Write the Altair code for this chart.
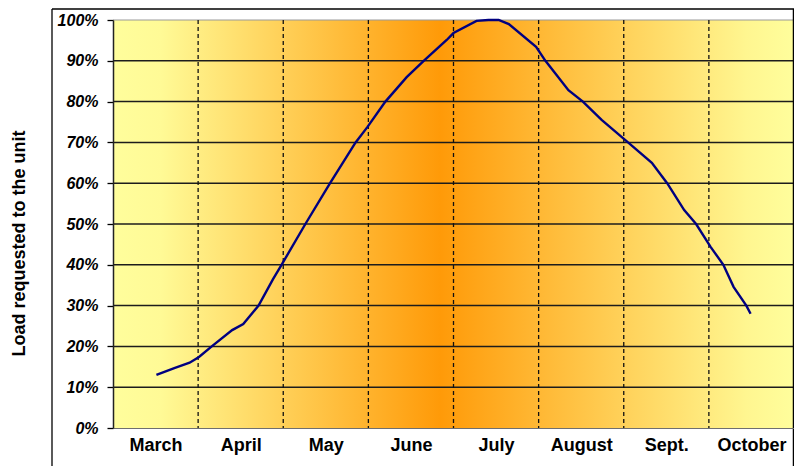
import altair as alt
import pandas as pd

# ---- data ----
months = ["March", "April", "May", "June", "July", "August", "Sept.", "October"]
y_ticks = [0, 10, 20, 30, 40, 50, 60, 70, 80, 90, 100]

# position along the season (month units, 0 = start of March) and load in %
month_pos = [0.51, 0.72, 0.90, 1.01, 1.16, 1.40, 1.53, 1.71, 1.88, 1.98,
             2.26, 2.55, 2.85, 2.99, 3.20, 3.45, 3.65, 3.92, 4.00, 4.27,
             4.41, 4.53, 4.65, 4.97, 5.08, 5.35, 5.52, 5.74, 6.05, 6.33,
             6.51, 6.71, 6.85, 7.02, 7.17, 7.29, 7.44, 7.49]
load = [13.0, 14.7, 16.0, 17.4, 20.0, 24.0, 25.5, 30.0, 36.5, 40.0,
        50.0, 60.0, 70.0, 73.8, 80.0, 86.0, 90.0, 95.1, 96.8, 99.8,
        100.0, 100.0, 99.0, 93.4, 90.0, 82.8, 80.0, 75.5, 70.0, 65.0,
        60.0, 53.4, 50.0, 44.4, 40.0, 34.6, 30.0, 28.0]

W, H = 681, 408
FONT = "Liberation Sans"
n = len(months)

xs = alt.Scale(domain=[0, n], nice=False, zero=False)
ys = alt.Scale(domain=[0, 100], nice=False)

label_expr = "[" + ",".join("'%s'" % m for m in months) + "][floor(datum.value)]"

x_axis = alt.Axis(values=[i + 0.5 for i in range(n)], labelExpr=label_expr,
                  ticks=False, grid=False, domainColor="#6f6f6f", domainWidth=1.2,
                  labelFont=FONT, labelFontSize=18, labelFontWeight="bold",
                  labelColor="black", labelPadding=8, zindex=1, labelFlush=False,
                  title="")
y_axis = alt.Axis(values=y_ticks, labelExpr="datum.value + '%'", grid=False,
                  tickSize=6, tickColor="black", tickWidth=1.3,
                  domainColor="#222", domainWidth=1.5,
                  labelFont=FONT, labelFontSize=16, labelFontWeight="bold",
                  labelFontStyle="italic", labelColor="black", labelPadding=9,
                  title="Load requested to the unit", titleFont=FONT,
                  titleFontSize=18, titleFontWeight="bold", titleColor="black",
                  titleAngle=270, titleAlign="center", titleBaseline="middle",
                  titleX=-94, titleY=223, zindex=1)

X = lambda f: alt.X(f, scale=xs, axis=x_axis)
Y = lambda f: alt.Y(f, scale=ys, axis=y_axis)

grad = alt.Gradient(
    gradient="linear", x1=0, x2=1, y1=0, y2=0,
    stops=[
        alt.GradientStop(color="#FFFE9C", offset=0),
        alt.GradientStop(color="#FFFA96", offset=0.07),
        alt.GradientStop(color="#FF9A08", offset=0.48),
        alt.GradientStop(color="#FFF690", offset=0.93),
        alt.GradientStop(color="#FFFE9C", offset=1),
    ],
)

bg = alt.Chart(pd.DataFrame({"x": [0], "x2": [n], "y": [0], "y2": [100]})).mark_rect(
    fill=grad
).encode(x=X("x:Q"), x2="x2", y=Y("y:Q"), y2="y2")

hgrid = alt.Chart(pd.DataFrame({"y": y_ticks[1:-1]})).mark_rule(
    color="#1c1c1c", strokeWidth=1.5
).encode(y=Y("y:Q"))

top = alt.Chart(pd.DataFrame({"y": [y_ticks[-1]]})).mark_rule(
    color="#9a9a9a", strokeWidth=1
).encode(y=Y("y:Q"))

vdash = alt.Chart(pd.DataFrame({"x": list(range(1, n))})).mark_rule(
    color="#111", strokeDash=[4, 3], strokeWidth=1.3
).encode(x=X("x:Q"))

curve = alt.Chart(pd.DataFrame({"x": month_pos, "y": load})).mark_line(
    color="#000080", strokeWidth=2.4
).encode(x=X("x:Q"), y=Y("y:Q"))

one = pd.DataFrame({"a": [0]})
frame_left = alt.Chart(one).mark_rule(color="black", strokeWidth=1.3).encode(
    x=alt.value(-61), y=alt.value(-11), y2=alt.value(H + 40))
frame_top = alt.Chart(one).mark_rule(color="black", strokeWidth=1.3).encode(
    x=alt.value(-61), x2=alt.value(W), y=alt.value(-11))
frame_right = alt.Chart(one).mark_rule(color="black", strokeWidth=1.5).encode(
    x=alt.value(W - 0.5), y=alt.value(-11), y2=alt.value(H + 40))

chart = alt.layer(bg, hgrid, top, vdash, curve, frame_left, frame_top, frame_right).properties(
    width=W, height=H,
    padding={"left": 105, "top": 12, "right": 0, "bottom": 38},
    autosize=alt.AutoSizeParams(type="none"),
    background="white",
).configure_view(strokeOpacity=0)

chart.save("out.html", embed_options={"renderer": "svg", "actions": False})
